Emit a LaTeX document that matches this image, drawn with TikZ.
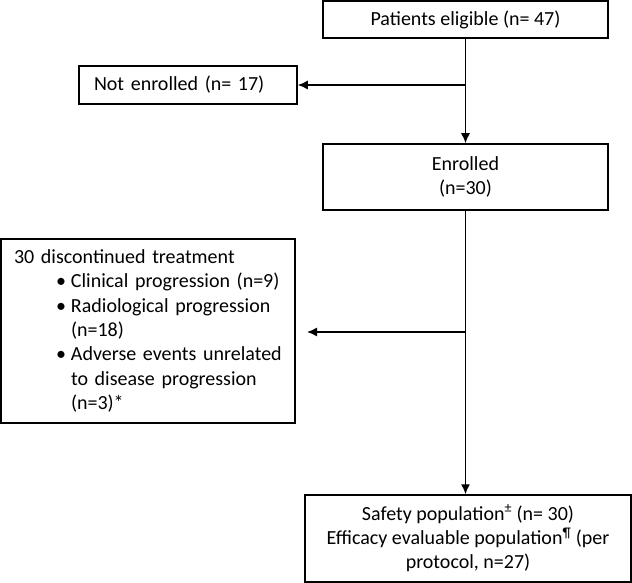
\documentclass[tikz,border=0pt]{standalone}
\usepackage{fontspec}
\setmainfont{Carlito}
\usetikzlibrary{arrows.meta}
\tikzset{
  box/.style={draw, line width=1.5pt, rectangle, inner sep=0pt, font=\fontsize{20}{24.3}\selectfont},
  flow/.style={line width=1.4pt, -{Latex[length=10pt,width=9pt]}},
}
\newcommand{\bulletline}[1]{\hspace*{42pt}\makebox[15pt][l]{\textbullet}#1}
\newcommand{\hangline}[1]{\hspace*{57pt}#1}
\begin{document}
\begin{tikzpicture}[x=1pt,y=1pt]
\useasboundingbox (0,0) rectangle (632,-583);
\node[box, minimum width=285pt, minimum height=37pt] (elig) at (465.5,-19.5) {Patients eligible (n= 47)};
\node[box, minimum width=218pt, minimum height=38pt, text width=188pt, inner xsep=15pt, align=left] (notenr) at (188,-85) {Not enrolled (n= 17)};
\node[box, minimum width=285pt, minimum height=66pt, align=center] (enr) at (465.5,-177) {Enrolled\\(n=30)};
\node[box, minimum width=294pt, minimum height=184pt, text width=268pt, inner xsep=13pt, align=left] (disc) at (148,-331) {30 discontinued treatment\\
\bulletline{Clinical progression (n=9)}\\
\bulletline{Radiological progression}\\
\hangline{(n=18)}\\
\bulletline{Adverse events unrelated}\\
\hangline{to disease progression}\\
\hangline{(n=3)*}};
\node[box, minimum width=326pt, minimum height=87pt, align=center] (safe) at (468,-538.5) {Safety population\textsuperscript{±} (n= 30)\\Efficacy evaluable population\textsuperscript{¶} (per\\protocol, n=27)};
% connectors
\coordinate (split1) at (elig.south |- notenr.east);
\coordinate (split2) at (466,-332);
\coordinate (discend) at (307,-332);
\draw[flow] (elig.south) -- (enr.north);
\draw[flow] (split1) -- (notenr.east);
\draw[flow] (enr.south) -- (enr.south |- safe.north);
\draw[flow] (split2) -- (discend);
\end{tikzpicture}
\end{document}
